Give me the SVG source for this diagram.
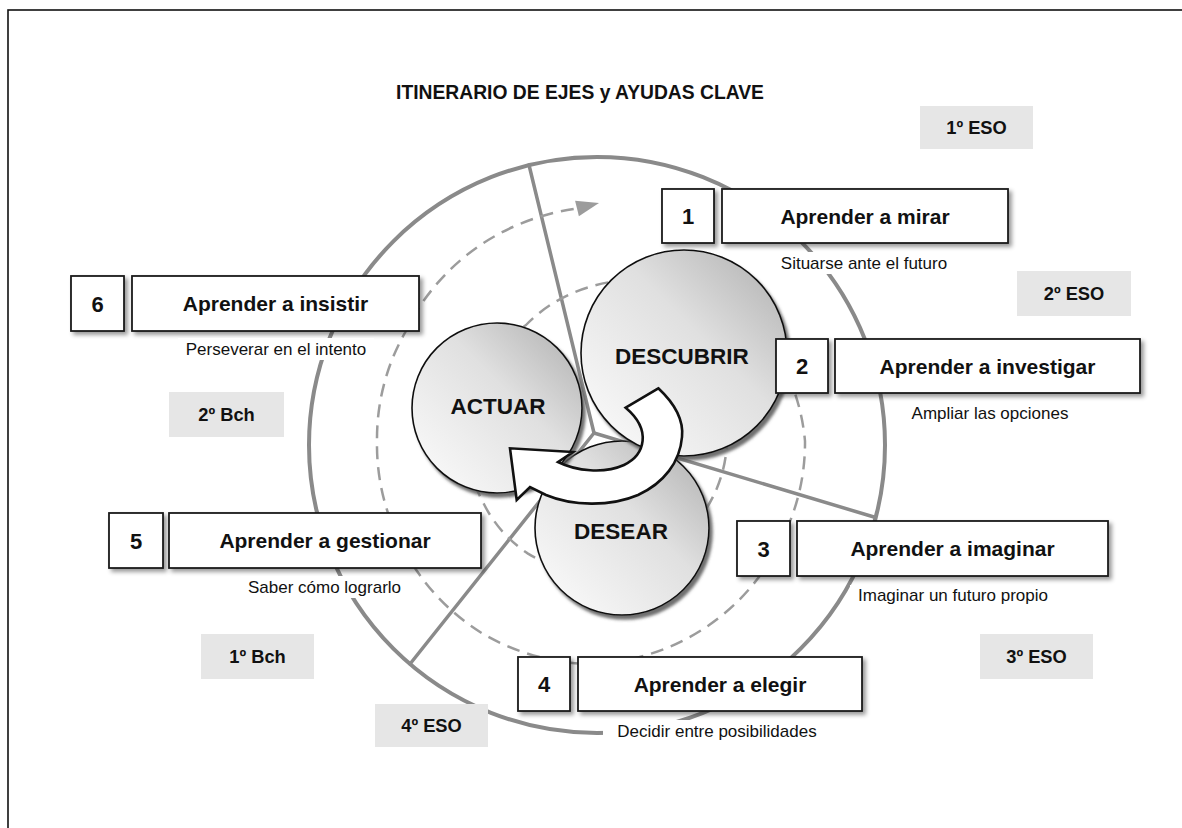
<svg xmlns="http://www.w3.org/2000/svg" width="1182" height="828" viewBox="0 0 1182 828">
<defs>
  <linearGradient id="ball" x1="1" y1="0" x2="0" y2="1">
    <stop offset="0" stop-color="#adadad"/>
    <stop offset="0.42" stop-color="#e0e0e0"/>
    <stop offset="1" stop-color="#fdfdfd"/>
  </linearGradient>
  <filter id="ballShadow" x="-20%" y="-20%" width="150%" height="150%">
    <feDropShadow dx="3" dy="4" stdDeviation="1.5" flood-color="#555" flood-opacity="0.85"/>
  </filter>
  <filter id="boxShadow" x="-10%" y="-20%" width="130%" height="150%">
    <feDropShadow dx="3" dy="3" stdDeviation="2" flood-color="#000" flood-opacity="0.4"/>
  </filter>
</defs>
<style>
  .ring{fill:none;stroke:#8a8a8a;stroke-width:4}
  .spoke{stroke:#8a8a8a;stroke-width:3.5;stroke-linecap:round}
  .route{fill:none;stroke:#9c9c9c;stroke-width:2.5;stroke-dasharray:13 8}
  .ball{fill:url(#ball);stroke:#111;stroke-width:1.6;filter:url(#ballShadow)}
  .box{fill:#fff;stroke:#1a1a1a;stroke-width:1.8;filter:url(#boxShadow)}
  .grade{fill:#e6e6e6}
  .bg{fill:#fff}
  text{font-family:"Liberation Sans",Arial,sans-serif;fill:#111;text-anchor:middle}
  .lbl{font-weight:bold;font-size:21px}
  .num{font-weight:bold;font-size:22px}
  .sub{font-size:17px}
  .gt{font-weight:bold;font-size:18.3px}
  .ct{font-weight:bold;font-size:22.5px}
  .title{font-weight:bold;font-size:19.3px}
</style>

<rect x="8" y="10" width="1190" height="830" fill="#fff" stroke="#111" stroke-width="1.6"/>

<text class="title" x="580" y="99">ITINERARIO DE EJES y AYUDAS CLAVE</text>

<g id="connectors">
  <circle class="ring" cx="597" cy="445" r="288"/>
  <line class="spoke" x1="594" y1="433" x2="529" y2="165"/>
  <line class="spoke" x1="594" y1="433" x2="874" y2="517"/>
  <line class="spoke" x1="594" y1="433" x2="410" y2="664"/>
  <path class="route" d="M 719.9 394.8 A 134.5 134.5 0 0 1 727 441 A 133 133 0 0 1 707.3 507 A 132 132 0 0 1 659 555.3 A 132 132 0 0 1 593 573 A 131 131 0 0 1 528 553.6 A 128 128 0 0 1 483.9 504 A 125.5 125.5 0 0 1 468 441 A 126.5 126.5 0 0 1 482.1 377 A 131 131 0 0 1 526 325 A 145 145 0 0 1 593 286 A 168 168 0 0 1 683 285.1 A 191 191 0 0 1 767.9 340 A 207 207 0 0 1 805 441 A 212.5 212.5 0 0 1 777.5 547.5 A 215.5 215.5 0 0 1 702 629.8 A 220.5 220.5 0 0 1 593 664 A 222.5 222.5 0 0 1 482 633.3 A 220 220 0 0 1 404.2 550 A 217 217 0 0 1 377 441 A 215 215 0 0 1 405.1 332.5 A 220 220 0 0 1 480 245.3 A 229 229 0 0 1 576.7 208.6"/>
  <polygon points="599,203 578.9,216.3 575.1,200.7" fill="#9c9c9c"/>
</g>

<g id="desear">
  <circle class="ball" cx="622" cy="528" r="87"/>
  <text class="ct" x="621" y="539">DESEAR</text>
</g>
<g id="actuar">
  <circle class="ball" cx="497" cy="408" r="85"/>
  <text class="ct" x="498" y="414">ACTUAR</text>
</g>
<g id="descubrir">
  <circle class="ball" cx="684" cy="353" r="103"/>
  <text class="ct" x="682" y="364">DESCUBRIR</text>
</g>

<g id="cycle-arrow">
  <path d="M 625.7 407.7 L 658.3 388.3 C 673 402 684 418 682 437 C 680 462 664 483 638 495 C 610 507 572 506 546 495 L 530 487 L 516.7 500 L 510 448.3 L 573 452 L 558 462 C 576 471 604 474 624 465 C 645 455 652 430 625.7 407.7 Z" fill="#fff" stroke="#111" stroke-width="2.6" stroke-linejoin="miter"/>
</g>

<g id="step1">
  <rect class="box" x="662" y="189" width="52" height="54"/>
  <rect class="box" x="722" y="189" width="286" height="54"/>
  <text class="num" x="688" y="224">1</text>
  <text class="lbl" x="865" y="223.5">Aprender a mirar</text>
  <rect class="bg" x="776" y="252" width="176" height="22"/>
  <text class="sub" x="864" y="269">Situarse ante el futuro</text>
</g>
<g id="step2">
  <rect class="box" x="776" y="339" width="52" height="54"/>
  <rect class="box" x="835" y="339" width="305" height="54"/>
  <text class="num" x="802" y="374">2</text>
  <text class="lbl" x="987.5" y="373.5">Aprender a investigar</text>
  <rect class="bg" x="904" y="402" width="172" height="22"/>
  <text class="sub" x="990" y="419">Ampliar las opciones</text>
</g>
<g id="step3">
  <rect class="box" x="737" y="521" width="53" height="55"/>
  <rect class="box" x="797" y="521" width="311" height="55"/>
  <text class="num" x="763.5" y="556.5">3</text>
  <text class="lbl" x="952.5" y="556">Aprender a imaginar</text>
  <rect class="bg" x="850" y="585" width="205" height="21"/>
  <text class="sub" x="953" y="601">Imaginar un futuro propio</text>
</g>
<g id="step4">
  <rect class="box" x="518" y="657" width="52" height="54"/>
  <rect class="box" x="578" y="657" width="284" height="54"/>
  <text class="num" x="544" y="692">4</text>
  <text class="lbl" x="720" y="691.5">Aprender a elegir</text>
  <rect class="bg" x="603" y="720" width="229" height="22"/>
  <text class="sub" x="717" y="737">Decidir entre posibilidades</text>
</g>
<g id="step5">
  <rect class="box" x="109" y="513" width="54" height="55"/>
  <rect class="box" x="169" y="513" width="312" height="55"/>
  <text class="num" x="136" y="548.5">5</text>
  <text class="lbl" x="325" y="548">Aprender a gestionar</text>
  <rect class="bg" x="241" y="576" width="166" height="22"/>
  <text class="sub" x="324.5" y="593">Saber cómo lograrlo</text>
</g>
<g id="step6">
  <rect class="box" x="71" y="276" width="53" height="55"/>
  <rect class="box" x="132" y="276" width="287" height="55"/>
  <text class="num" x="97.5" y="311.5">6</text>
  <text class="lbl" x="275.5" y="311">Aprender a insistir</text>
  <rect class="bg" x="178" y="338" width="196" height="22"/>
  <text class="sub" x="276" y="355">Perseverar en el intento</text>
</g>

<g id="grade-1eso"><rect class="grade" x="920" y="106" width="113" height="43"/><text class="gt" x="976.5" y="134">1º ESO</text></g>
<g id="grade-2eso"><rect class="grade" x="1017" y="271" width="114" height="45"/><text class="gt" x="1074" y="300">2º ESO</text></g>
<g id="grade-3eso"><rect class="grade" x="980" y="634" width="113" height="45"/><text class="gt" x="1036.5" y="663">3º ESO</text></g>
<g id="grade-4eso"><rect class="grade" x="375" y="704" width="113" height="43"/><text class="gt" x="431.5" y="732">4º ESO</text></g>
<g id="grade-1bch"><rect class="grade" x="201" y="634" width="113" height="45"/><text class="gt" x="257.5" y="663">1º Bch</text></g>
<g id="grade-2bch"><rect class="grade" x="169" y="392" width="115" height="45"/><text class="gt" x="226.5" y="421">2º Bch</text></g>
</svg>
